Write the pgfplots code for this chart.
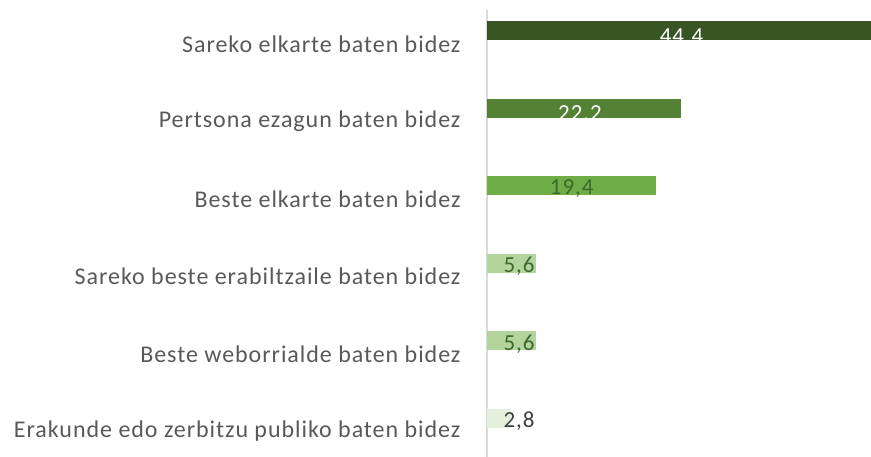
\documentclass[border=0pt]{standalone}
\usepackage{pgfplots}
\pgfplotsset{compat=1.18}
\usepackage{fontspec}
\setmainfont{Carlito}[LetterSpace=4]
\definecolor{c1}{HTML}{375623}
\definecolor{c2}{HTML}{548235}
\definecolor{c3}{HTML}{70AD47}
\definecolor{c4}{HTML}{B3D49E}
\definecolor{c6}{HTML}{E4EFDC}
\definecolor{labgray}{HTML}{595959}
\definecolor{axgray}{HTML}{D9D9D9}
\definecolor{lgreen}{HTML}{3E6A2C}
\definecolor{lgray}{HTML}{404040}
\begin{document}
\begin{tikzpicture}[x=1bp,y=1bp]
\useasboundingbox (0,0) rectangle (871,457);
\begin{axis}[
  at={(487bp,0bp)}, anchor=south west,
  scale only axis, width=384bp, height=447bp,
  xmin=0, xmax=44, ymin=-0.5, ymax=5.27,
  axis x line=none, axis y line=left,
  y axis line style={-, draw=axgray, line width=1.5bp},
  ytick={0,1,2,3,4,5},
  yticklabels={Erakunde edo zerbitzu publiko baten bidez, Beste weborrialde baten bidez, Sareko beste erabiltzaile baten bidez, Beste elkarte baten bidez, Pertsona ezagun baten bidez, Sareko elkarte baten bidez},
  major tick length=0pt,
  yticklabel style={font=\fontsize{24bp}{27bp}\selectfont, text=labgray, xshift=-23bp, yshift=-13bp},
]
\addplot[xbar, bar shift=0pt, bar width=19bp, fill=c1, draw=none] coordinates {(44.4,5)};
\addplot[xbar, bar shift=0pt, bar width=19bp, fill=c2, draw=none] coordinates {(22.2,4)};
\addplot[xbar, bar shift=0pt, bar width=19bp, fill=c3, draw=none] coordinates {(19.4,3)};
\addplot[xbar, bar shift=0pt, bar width=19bp, fill=c4, draw=none] coordinates {(5.6,2)};
\addplot[xbar, bar shift=0pt, bar width=19bp, fill=c4, draw=none] coordinates {(5.6,1)};
\addplot[xbar, bar shift=0pt, bar width=19bp, fill=c6, draw=none] coordinates {(2.8,0)};
% data labels
\addplot[draw=none, mark=none, nodes near coords, point meta=explicit symbolic,
  nodes near coords align=center,
  every node near coord/.append style={text=white, font=\fontsize{23bp}{26bp}\selectfont, yshift=-5bp}]
  coordinates {(22.3,5)[44.4] (10.65,4)[22.2]};
\addplot[draw=none, mark=none, nodes near coords, point meta=explicit symbolic,
  nodes near coords align=center,
  every node near coord/.append style={text=lgreen, font=\fontsize{23bp}{26bp}\selectfont, yshift=-3bp}]
  coordinates {(9.7,3)[{19,4}] (3.67,2)[{5,6}] (3.67,1)[{5,6}]};
\addplot[draw=none, mark=none, nodes near coords, point meta=explicit symbolic,
  nodes near coords align=center,
  every node near coord/.append style={text=lgray, font=\fontsize{23bp}{26bp}\selectfont, yshift=-3bp}]
  coordinates {(3.67,0)[{2,8}]};
\end{axis}
\end{tikzpicture}
\end{document}
